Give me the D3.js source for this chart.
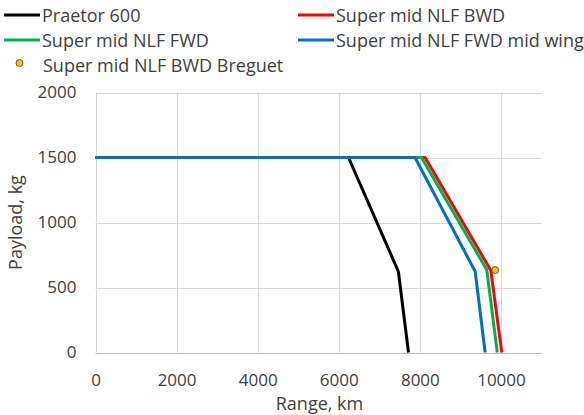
<!DOCTYPE html>
<html>
<head>
<meta charset="utf-8">
<script src="https://cdn.jsdelivr.net/npm/d3@7"></script>
<style>
  html, body { margin: 0; padding: 0; background: #fff; }
  svg text { font-family: "Open Sans", "Noto Sans", sans-serif; fill: #404040; }
</style>
</head>
<body>
<svg id="chart" width="584" height="415"></svg>
<script>
// Payload-range diagrams (range in km, payload in kg)
const praetorRange   = [0, 6240, 7470, 7720];
const praetorPayload = [1500, 1500, 623, 0];

const bwdRange   = [0, 8130, 9750, 10020];
const bwdPayload = [1500, 1500, 631, 0];

const fwdRange   = [0, 8040, 9650, 9910];
const fwdPayload = [1500, 1500, 636, 0];

const midWingRange   = [0, 7880, 9365, 9610];
const midWingPayload = [1500, 1500, 623, 0];

const breguetRange   = [9860];
const breguetPayload = [634];

const xTicks = [0, 2000, 4000, 6000, 8000, 10000];
const yTicks = [0, 500, 1000, 1500, 2000];

const series = [
  { name: "Praetor 600", color: "#000000", range: praetorRange, payload: praetorPayload },
  { name: "Super mid NLF BWD", color: "#FF0000", range: bwdRange, payload: bwdPayload },
  { name: "Super mid NLF FWD", color: "#00B050", range: fwdRange, payload: fwdPayload },
  { name: "Super mid NLF FWD mid wing", color: "#0070C0", range: midWingRange, payload: midWingPayload }
];

const svg = d3.select("#chart");
const plotL = 95.5, plotR = 541.5, plotT = 92.5, plotB = 352.5;

const x = d3.scaleLinear().domain([0, 11000]).range([plotL, plotR]);
const y = d3.scaleLinear().domain([0, 2000]).range([plotB, plotT]);

// gridlines
svg.append("g").selectAll("line").data(yTicks.filter(d => d > 0)).join("line")
  .attr("x1", plotL).attr("x2", plotR)
  .attr("y1", d => Math.round(y(d)) + 0.5).attr("y2", d => Math.round(y(d)) + 0.5)
  .attr("stroke", "#d9d9d9").attr("stroke-width", 1);
svg.append("g").selectAll("line").data(xTicks).join("line")
  .attr("y1", plotT).attr("y2", plotB)
  .attr("x1", d => Math.round(x(d)) + 0.5).attr("x2", d => Math.round(x(d)) + 0.5)
  .attr("stroke", "#d9d9d9").attr("stroke-width", 1);

// x axis baseline
svg.append("line")
  .attr("x1", plotL).attr("x2", plotR)
  .attr("y1", Math.round(y(0)) + 0.5).attr("y2", Math.round(y(0)) + 0.5)
  .attr("stroke", "#bfbfbf").attr("stroke-width", 1);

// tick labels
const fmt = d3.format("d");
const xAxis = d3.axisBottom(x).tickValues(xTicks).tickFormat(fmt).tickSize(0).tickPadding(21);
const gx = svg.append("g").attr("transform", `translate(0,${plotB})`).call(xAxis);
gx.select(".domain").remove();
gx.selectAll("text").style("font-size", "17px").style("font-family", "'Open Sans', sans-serif").attr("fill", "#404040");

const yAxis = d3.axisLeft(y).tickValues(yTicks).tickFormat(fmt).tickSize(0).tickPadding(19);
const gy = svg.append("g").attr("transform", `translate(${plotL},0)`).call(yAxis);
gy.select(".domain").remove();
gy.selectAll("text").style("font-size", "17px").style("font-family", "'Open Sans', sans-serif").attr("fill", "#404040");

// axis titles
svg.append("text").attr("x", (plotL + plotR) / 2 + 1).attr("y", 409.5)
  .attr("text-anchor", "middle").style("font-size", "18px").text("Range, km");
svg.append("text").attr("transform", `translate(22,${(plotT + plotB) / 2}) rotate(-90)`)
  .attr("text-anchor", "middle").style("font-size", "18px").text("Payload, kg");

// curves
const line = d3.line().x(d => x(d[0])).y(d => y(d[1]));
svg.append("g").selectAll("path").data(series).join("path")
  .attr("d", s => line(s.range.map((r, i) => [r, s.payload[i]])))
  .attr("fill", "none").attr("stroke", s => s.color)
  .attr("stroke-width", 3).attr("stroke-linejoin", "round");

// Breguet estimate point
svg.append("g").selectAll("circle").data(breguetRange).join("circle")
  .attr("cx", d => x(d)).attr("cy", (d, i) => y(breguetPayload[i]))
  .attr("r", 3.5).attr("fill", "#FFC000").attr("stroke", "#404040").attr("stroke-width", 0.8);

// legend
const legendPos = [
  { lx: 4, ly: 15 }, { lx: 298, ly: 15 }, { lx: 4, ly: 40 }, { lx: 298, ly: 40 }
];
const lg = svg.append("g");
series.forEach((s, i) => {
  const p = legendPos[i];
  lg.append("line").attr("x1", p.lx).attr("x2", p.lx + 36).attr("y1", p.ly).attr("y2", p.ly)
    .attr("stroke", s.color).attr("stroke-width", 3);
  lg.append("text").attr("x", p.lx + 38).attr("y", p.ly + 7)
    .style("font-size", "18px").text(s.name);
});
lg.append("circle").attr("cx", 19.5).attr("cy", 63).attr("r", 3.5)
  .attr("fill", "#FFC000").attr("stroke", "#404040").attr("stroke-width", 0.8);
lg.append("text").attr("x", 43).attr("y", 72).style("font-size", "18px").text("Super mid NLF BWD Breguet");
</script>
</body>
</html>
